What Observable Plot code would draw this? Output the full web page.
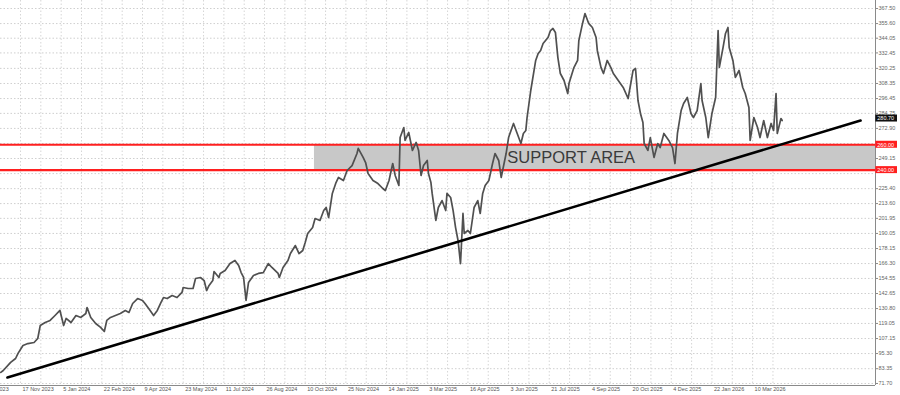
<!DOCTYPE html>
<html><head><meta charset="utf-8">
<script src="https://cdn.jsdelivr.net/npm/d3@7"></script>
<script src="https://cdn.jsdelivr.net/npm/@observablehq/plot@0.6"></script>
<style>
html,body{margin:0;padding:0;background:#fff;}
#chart svg{display:block;}
</style></head><body><div id="chart"></div>
<script>
// bar index (trading-day count) and close price
const priceBars = [17,19,25,29,31,35,39,44,47,49,53,57,61,65,68,70,74,78,82,86,87,90,94,98,101,103,106,110,114,118,121,124,128,132,134,137,141,144,147,149,152,156,160,164,165,169,173,175,179,182,184,186,189,190,194,195,199,203,207,210,212,214,216,218,222,226,230,234,237,242,243,246,250,252,256,259,262,264,266,270,272,276,279,281,283,286,289,291,295,298,302,306,307,311,313,315,319,323,327,329,332,335,337,340,341,344,345,348,351,354,356,358,360,363,364,366,367,370,372,375,378,379,382,384,386,388,390,392,393,396,398,401,404,406,408,410,413,416,418,421,423,427,429,433,436,439,441,443,444,447,451,453,455,457,461,463,465,467,469,471,474,477,478,482,485,486,489,491,494,497,500,501,504,506,509,512,514,518,522,526,530,532,534,536,538,539,542,544,547,550,552,555,559,562,564,566,569,571,574,577,579,582,585,586,589,591,594,597,599,600,603,605,607,608,611,613,616,619,621,624,625,628,631,633,636,639,642,644,646,647,650,651];
const priceValues = [80.4,81.9,88.3,91.4,95.4,101.7,103.2,104.0,107.2,117.4,119.8,121.4,125.3,129.3,117.4,123.0,119.8,125.3,123.8,126.9,131.6,123.8,119.0,115.9,112.7,121.4,123.8,125.3,126.9,129.3,127.7,134.8,138.7,137.2,134.8,130.8,125.3,129.3,135.6,139.5,138.7,141.1,139.5,143.5,147.4,146.6,146.6,154.5,155.3,152.9,145.0,149.0,152.9,160.0,155.3,158.5,160.8,166.3,168.7,164.8,159.2,155.3,137.2,151.4,156.9,158.5,159.2,166.3,163.2,158.5,155.3,163.2,168.7,174.2,180.5,174.2,176.6,182.9,190.0,194.7,201.8,200.3,208.1,210.5,202.6,221.6,230.2,234.2,231.8,239.7,243.6,253.1,257.1,250.0,246.0,237.3,231.8,229.4,225.5,223.9,231.8,245.2,235.8,227.9,265.7,273.6,263.4,269.7,255.5,261.8,255.5,235.8,243.6,247.6,237.3,230.2,221.6,200.3,210.5,216.0,208.1,221.6,218.4,208.1,194.7,184.5,166.3,205.8,190.0,192.4,190.0,210.5,216.0,205.8,221.6,227.9,231.8,245.2,253.1,247.6,234.2,253.1,265.7,276.8,268.9,261.0,268.9,271.3,281.5,302.8,326.5,332.0,334.4,339.9,344.6,350.1,351.7,348.6,328.8,316.2,310.7,300.4,308.3,320.9,326.5,342.2,355.7,363.5,355.7,352.5,344.6,334.4,320.9,316.2,326.5,320.9,316.2,310.7,305.2,296.5,318.6,320.2,294.9,284.7,277.6,261.0,255.5,265.7,250.0,261.0,257.8,268.9,263.4,257.8,245.2,268.9,287.0,292.6,297.3,284.7,281.5,287.0,308.3,294.9,281.5,265.7,284.7,297.3,350.1,321.0,336.7,347.8,352.5,336.7,326.5,313.1,318.6,305.2,300.4,289.4,263.4,281.5,273.6,265.7,279.1,265.7,276.8,271.3,300.4,268.9,280.7,279.1];
const trendBars = [22.4, 714.6];
const trendValues = [76.4, 279.1];
const supportLow = 240;
const supportHigh = 260;
const supportStartBar = 271.5;
const supportLabel = "SUPPORT AREA";
const supportLabelBar = 428;
const lastPrice = 280.7;
const lastPriceLabel = "280.70";
const dateTickBars = [0,33,66,99,132,165,198,231,264,297,330,363,396,429,462,495,528,561,594,627];
const dateTickLabels = ["2 Oct 2023","17 Nov 2023","5 Jan 2024","22 Feb 2024","9 Apr 2024","23 May 2024","11 Jul 2024","26 Aug 2024","10 Oct 2024","25 Nov 2024","14 Jan 2025","3 Mar 2025","16 Apr 2025","3 Jun 2025","21 Jul 2025","4 Sep 2025","20 Oct 2025","4 Dec 2025","22 Jan 2026","10 Mar 2026"];
const priceTicks = [71.70,83.35,95.30,107.15,119.05,130.80,142.65,154.55,166.30,178.15,190.05,201.95,213.60,225.40,237.25,249.15,261.00,272.90,284.75,296.45,308.35,320.25,332.45,344.05,355.60,367.50];

const xDomain = [16.77, 726.7];
const yDomain = [70.1, 373.8];
const pxX = 0.8114;   // bars per pixel
const pxY = 0.7888;   // price per pixel

const price = priceBars.map((b, i) => ({bar: b, value: priceValues[i]}));
const trend = trendBars.map((b, i) => ({bar: b, value: trendValues[i]}));
const gridBars = [];
dateTickBars.forEach(b => { gridBars.push(b); gridBars.push(b + 16.5); });
const labelMap = new Map(dateTickBars.map((b, i) => [b, dateTickLabels[i]]));

const redTags = [supportHigh, supportLow].map(v => ({v, label: v.toFixed(2)}));
const tagValues = [supportHigh, supportLow];
// tick labels hidden under the red tags are not printed (as in the reference)
const labelTicks = priceTicks.filter(t => tagValues.every(v => Math.abs(t - v) > 4.5 * pxY));
const tagX1 = xDomain[1] + 0.3 * pxX, tagX2 = xDomain[1] + 22 * pxX;

const chart = Plot.plot({
  width: 900, height: 395,
  marginLeft: 0, marginRight: 25, marginTop: 0, marginBottom: 10,
  style: {fontFamily: "'Liberation Sans', Arial, sans-serif", fontSize: "5.5px", color: "#555", background: "#fff"},
  x: {domain: xDomain},
  y: {domain: yDomain},
  marks: [
    Plot.ruleY(priceTicks, {stroke: "#cfcfcf", strokeDasharray: "1.5,2"}),
    Plot.ruleX(gridBars.filter(b => b >= xDomain[0] && b <= xDomain[1]), {stroke: "#d6d6d6", strokeDasharray: "1.5,2"}),
    Plot.rect([{x1: supportStartBar, x2: xDomain[1], y1: supportLow, y2: supportHigh}], {x1: "x1", x2: "x2", y1: "y1", y2: "y2", fill: "#c8c8c8"}),
    Plot.ruleY([supportLow, supportHigh], {stroke: "#ff1f1f", strokeWidth: 2.2}),
    Plot.text([supportLabel], {x: supportLabelBar, y: (supportLow + supportHigh) / 2, text: d => d, textAnchor: "start", fontSize: 16.5, fill: "#3a3a3a"}),
    Plot.line(price, {x: "bar", y: "value", stroke: "#505050", strokeWidth: 1.7}),
    Plot.line(trend, {x: "bar", y: "value", stroke: "#000", strokeWidth: 2.6}),
    Plot.ruleX([xDomain[1]], {stroke: "#8a8a8a"}),
    Plot.ruleY([yDomain[0]], {stroke: "#8a8a8a"}),
    Plot.axisY({anchor: "right", ticks: labelTicks, tickFormat: d => d.toFixed(2), tickSize: 2, tickPadding: 1, fill: "#666", stroke: "#8a8a8a"}),
    Plot.axisX({ticks: dateTickBars, tickFormat: d => labelMap.get(d), tickSize: 0, tickPadding: 2, textAnchor: "start", dx: 2, fill: "#555"}),
    Plot.rect(redTags, {x1: tagX1, x2: tagX2, y1: d => d.v - 3.5 * pxY, y2: d => d.v + 3.5 * pxY, fill: "#ff1f1f"}),
    Plot.text(redTags, {x: tagX1 + 1.5 * pxX, y: "v", text: "label", textAnchor: "start", fill: "#fff", fontSize: 5.5}),
    Plot.rect([lastPrice], {x1: tagX1, x2: tagX2, y1: d => d - 3.5 * pxY, y2: d => d + 3.5 * pxY, fill: "#111"}),
    Plot.text([lastPrice], {x: tagX1 + 1.5 * pxX, y: d => d, text: () => lastPriceLabel, textAnchor: "start", fill: "#fff", fontSize: 5.5})
  ]
});
document.getElementById("chart").append(chart);
</script>
</body></html>
